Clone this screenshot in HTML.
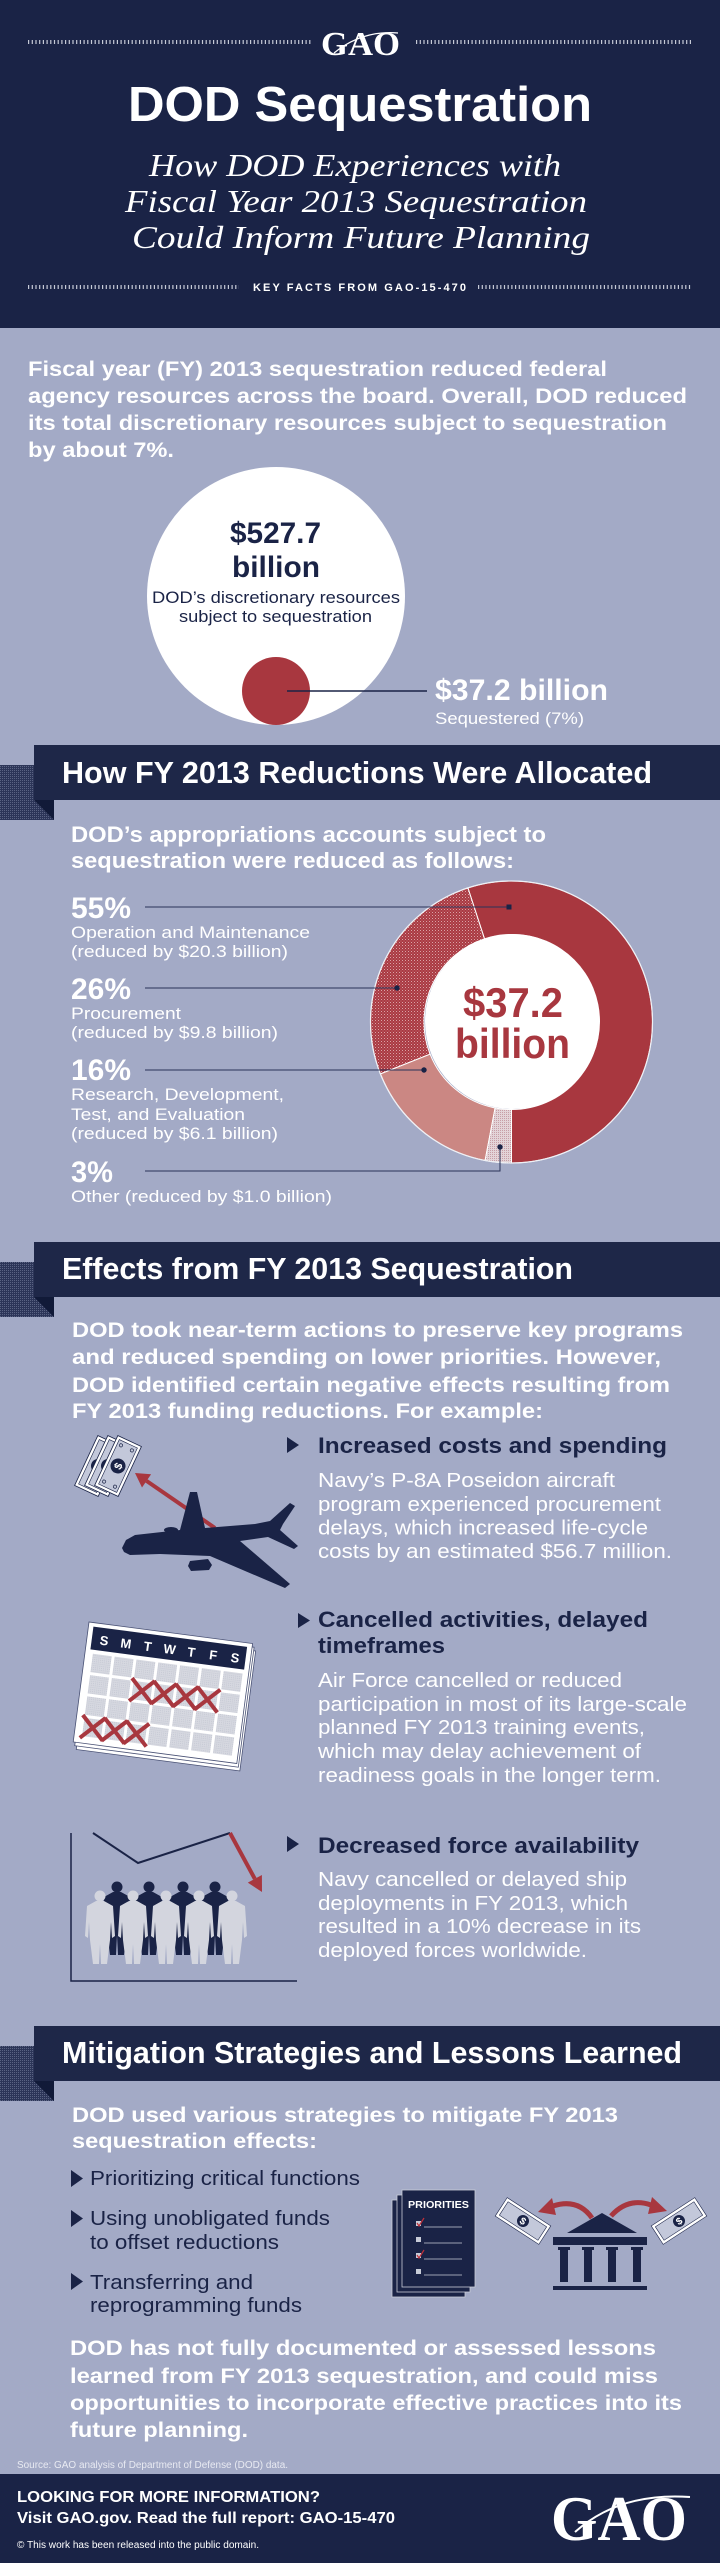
<!DOCTYPE html>
<html><head><meta charset="utf-8"><style>html,body{margin:0;padding:0;background:#a3aac6}svg{display:block}</style></head>
<body>
<svg xmlns="http://www.w3.org/2000/svg" width="720" height="2563" viewBox="0 0 720 2563" font-family="'Liberation Sans', Arial, sans-serif">
<defs>
<pattern id="hatch" width="3" height="3" patternUnits="userSpaceOnUse"><rect width="3" height="3" fill="#a93a42"/><rect width="1" height="1" fill="#dba3a7"/><rect x="1.5" y="1.5" width="1" height="1" fill="#c8747a"/></pattern>
<pattern id="dots" width="2" height="2" patternUnits="userSpaceOnUse"><rect width="2" height="2" fill="#e3d4d8"/><rect width="1" height="1" fill="#c79ea6"/></pattern>
<pattern id="fold" width="2" height="2" patternUnits="userSpaceOnUse"><rect width="2" height="2" fill="#2c3558"/><rect width="1" height="1" fill="#5a6383"/></pattern>
<pattern id="gray" width="2" height="2" patternUnits="userSpaceOnUse"><rect width="2" height="2" fill="#d6d8e0"/><rect width="1" height="1" fill="#c6c9d4"/></pattern>
</defs>

<!-- backgrounds -->
<rect width="720" height="2563" fill="#a3aac6"/>
<rect width="720" height="328" fill="#1a2346"/>

<!-- header -->
<g stroke="#c5c9d6" stroke-width="4" stroke-dasharray="1.2 2.5">
<line x1="28" y1="42" x2="312" y2="42"/><line x1="416" y1="42" x2="692" y2="42"/>
<line x1="28" y1="287" x2="239" y2="287"/><line x1="478" y1="287" x2="692" y2="287"/>
</g>
<text x="321" y="55" font-family="'Liberation Serif', serif" font-weight="bold" font-size="34" fill="#fff" textLength="79" lengthAdjust="spacingAndGlyphs">GAO</text>
<path d="M334 53 Q362 30 398 33" stroke="#fff" stroke-width="1.2" fill="none"/>
<text x="128" y="121" font-weight="bold" font-size="49" fill="#fff" textLength="464" lengthAdjust="spacingAndGlyphs">DOD Sequestration</text>
<g font-family="'Liberation Serif', serif" font-style="italic" font-size="32" fill="#fff">
<text x="149" y="176" textLength="412" lengthAdjust="spacingAndGlyphs">How DOD Experiences with</text>
<text x="125" y="212" textLength="462" lengthAdjust="spacingAndGlyphs">Fiscal Year 2013 Sequestration</text>
<text x="132" y="248" textLength="458" lengthAdjust="spacingAndGlyphs">Could Inform Future Planning</text>
</g>
<text x="253" y="291" font-weight="bold" font-size="11" fill="#fff" textLength="213" lengthAdjust="spacing">KEY FACTS FROM GAO-15-470</text>

<!-- intro -->
<g font-weight="bold" font-size="21" fill="#fff">
<text x="28" y="376" textLength="579" lengthAdjust="spacingAndGlyphs">Fiscal year (FY) 2013 sequestration reduced federal</text>
<text x="28" y="403" textLength="659" lengthAdjust="spacingAndGlyphs">agency resources across the board. Overall, DOD reduced</text>
<text x="28" y="430" textLength="639" lengthAdjust="spacingAndGlyphs">its total discretionary resources subject to sequestration</text>
<text x="28" y="457" textLength="146" lengthAdjust="spacingAndGlyphs">by about 7%.</text>
</g>

<!-- circles -->
<circle cx="276" cy="596" r="129" fill="#fff"/>
<text x="230" y="543" font-weight="bold" font-size="30" fill="#1a2346" textLength="91" lengthAdjust="spacingAndGlyphs">$527.7</text>
<text x="232" y="577" font-weight="bold" font-size="30" fill="#1a2346" textLength="88" lengthAdjust="spacingAndGlyphs">billion</text>
<text x="152" y="603" font-size="17" fill="#1a2346" textLength="248" lengthAdjust="spacingAndGlyphs">DOD’s discretionary resources</text>
<text x="179" y="622" font-size="17" fill="#1a2346" textLength="193" lengthAdjust="spacingAndGlyphs">subject to sequestration</text>
<circle cx="276" cy="691" r="34" fill="#a8373f"/>
<line x1="287" y1="691" x2="427" y2="691" stroke="#1a2346" stroke-width="1.5"/>
<text x="435" y="700" font-weight="bold" font-size="30" fill="#fff" textLength="173" lengthAdjust="spacingAndGlyphs">$37.2 billion</text>
<text x="435" y="724" font-size="17" fill="#fff" textLength="149" lengthAdjust="spacingAndGlyphs">Sequestered (7%)</text>

<!-- banner 1 -->
<rect x="0" y="765" width="54" height="55" fill="url(#fold)"/>
<polygon points="34,800 54,800 54,820" fill="#111a38"/>
<rect x="34" y="745" width="686" height="55" fill="#1e2748"/>
<text x="62" y="783" font-weight="bold" font-size="31" fill="#fff" textLength="590" lengthAdjust="spacingAndGlyphs">How FY 2013 Reductions Were Allocated</text>

<g font-weight="bold" font-size="22" fill="#fff">
<text x="71" y="842" textLength="475" lengthAdjust="spacingAndGlyphs">DOD’s appropriations accounts subject to</text>
<text x="71" y="868" textLength="443" lengthAdjust="spacingAndGlyphs">sequestration were reduced as follows:</text>
</g>

<!-- donut -->
<g stroke="#fff" stroke-width="1">
<path d="M467.9 887.9 A141 141 0 1 1 511.5 1163 L511.5 1109.5 A87.5 87.5 0 1 0 484.5 938.8 Z" fill="#a8373f"/>
<path d="M380.4 1073.9 A141 141 0 0 1 467.9 887.9 L484.5 938.8 A87.5 87.5 0 0 0 430.1 1054.2 Z" fill="url(#hatch)"/>
<path d="M485.1 1160.5 A141 141 0 0 1 380.4 1073.9 L430.1 1054.2 A87.5 87.5 0 0 0 495.1 1107.95 Z" fill="#cb8783"/>
<path d="M511.5 1163 A141 141 0 0 1 485.1 1160.5 L495.1 1107.95 A87.5 87.5 0 0 0 511.5 1109.5 Z" fill="url(#dots)"/>
</g>
<circle cx="511.5" cy="1022" r="141" fill="none" stroke="#eef0f5" stroke-width="1.2"/>
<circle cx="512.5" cy="1021.5" r="87.5" fill="#fff"/>
<text x="463" y="1017" font-weight="bold" font-size="42" fill="#a8373f" textLength="100" lengthAdjust="spacingAndGlyphs">$37.2</text>
<text x="455" y="1058" font-weight="bold" font-size="42" fill="#a8373f" textLength="115" lengthAdjust="spacingAndGlyphs">billion</text>

<g stroke="#2a3358" stroke-width="1" fill="none">
<line x1="145" y1="907" x2="509" y2="907"/>
<line x1="145" y1="988" x2="397" y2="988"/>
<line x1="145" y1="1070" x2="424" y2="1070"/>
<polyline points="145,1171 500,1171 500,1147"/>
</g>
<g fill="#1a2346">
<rect x="506.5" y="904.5" width="5" height="5"/>
<circle cx="397" cy="988" r="2.7"/>
<circle cx="424" cy="1070" r="2.7"/>
<circle cx="500" cy="1147" r="2.7"/>
</g>

<g fill="#fff">
<text x="71" y="918" font-weight="bold" font-size="30" textLength="60" lengthAdjust="spacingAndGlyphs">55%</text>
<text x="71" y="938" font-size="17" textLength="239" lengthAdjust="spacingAndGlyphs">Operation and Maintenance</text>
<text x="71" y="957" font-size="17" textLength="217" lengthAdjust="spacingAndGlyphs">(reduced by $20.3 billion)</text>
<text x="71" y="999" font-weight="bold" font-size="30" textLength="60" lengthAdjust="spacingAndGlyphs">26%</text>
<text x="71" y="1019" font-size="17" textLength="110" lengthAdjust="spacingAndGlyphs">Procurement</text>
<text x="71" y="1038" font-size="17" textLength="207" lengthAdjust="spacingAndGlyphs">(reduced by $9.8 billion)</text>
<text x="71" y="1080" font-weight="bold" font-size="30" textLength="60" lengthAdjust="spacingAndGlyphs">16%</text>
<text x="71" y="1100" font-size="17" textLength="213" lengthAdjust="spacingAndGlyphs">Research, Development,</text>
<text x="71" y="1120" font-size="17" textLength="174" lengthAdjust="spacingAndGlyphs">Test, and Evaluation</text>
<text x="71" y="1139" font-size="17" textLength="207" lengthAdjust="spacingAndGlyphs">(reduced by $6.1 billion)</text>
<text x="71" y="1182" font-weight="bold" font-size="30" textLength="42" lengthAdjust="spacingAndGlyphs">3%</text>
<text x="71" y="1202" font-size="17" textLength="261" lengthAdjust="spacingAndGlyphs">Other (reduced by $1.0 billion)</text>
</g>

<!-- banner 2 -->
<rect x="0" y="1262" width="54" height="55" fill="url(#fold)"/>
<polygon points="34,1297 54,1297 54,1317" fill="#111a38"/>
<rect x="34" y="1242" width="686" height="55" fill="#1e2748"/>
<text x="62" y="1279" font-weight="bold" font-size="31" fill="#fff" textLength="511" lengthAdjust="spacingAndGlyphs">Effects from FY 2013 Sequestration</text>

<g font-weight="bold" font-size="21" fill="#fff">
<text x="72" y="1337" textLength="611" lengthAdjust="spacingAndGlyphs">DOD took near-term actions to preserve key programs</text>
<text x="72" y="1364" textLength="589" lengthAdjust="spacingAndGlyphs">and reduced spending on lower priorities.  However,</text>
<text x="72" y="1392" textLength="598" lengthAdjust="spacingAndGlyphs">DOD identified certain negative effects resulting from</text>
<text x="72" y="1418" textLength="471" lengthAdjust="spacingAndGlyphs">FY 2013 funding reductions. For example:</text>
</g>

<!-- effect 1 -->
<polygon points="287,1437 299,1445 287,1453" fill="#1a2346"/>
<text x="318" y="1453" font-weight="bold" font-size="22" fill="#1a2346" textLength="349" lengthAdjust="spacingAndGlyphs">Increased costs and spending</text>
<g font-size="20" fill="#fff">
<text x="318" y="1487" textLength="297" lengthAdjust="spacingAndGlyphs">Navy’s P-8A Poseidon aircraft</text>
<text x="318" y="1511" textLength="343" lengthAdjust="spacingAndGlyphs">program experienced procurement</text>
<text x="318" y="1534.5" textLength="330" lengthAdjust="spacingAndGlyphs">delays, which increased life-cycle</text>
<text x="318" y="1558" textLength="354" lengthAdjust="spacingAndGlyphs">costs by an estimated $56.7 million.</text>
</g>

<!-- money stack -->
<g transform="translate(98,1466) rotate(25)">
<rect x="-13" y="-27.5" width="26" height="55" fill="#fff" stroke="#1a2346" stroke-width="0.8"/>
<rect x="-10" y="-24.5" width="20" height="49" fill="#c3c8da" stroke="#1a2346" stroke-width="0.6"/>
<circle cx="0" cy="0" r="7" fill="#1a2346"/>
</g>
<g transform="translate(108,1466) rotate(25)">
<rect x="-13" y="-27.5" width="26" height="55" fill="#fff" stroke="#1a2346" stroke-width="0.8"/>
<rect x="-10" y="-24.5" width="20" height="49" fill="#c3c8da" stroke="#1a2346" stroke-width="0.6"/>
<circle cx="0" cy="0" r="7" fill="#1a2346"/>
</g>
<g transform="translate(118,1466) rotate(25)">
<rect x="-13" y="-27.5" width="26" height="55" fill="#fff" stroke="#1a2346" stroke-width="0.8"/>
<rect x="-10" y="-24.5" width="20" height="49" fill="#c3c8da" stroke="#1a2346" stroke-width="0.6"/>
<circle cx="0" cy="0" r="7.5" fill="#1a2346"/>
<text x="0" y="4" font-weight="bold" font-size="11" fill="#fff" text-anchor="middle" transform="rotate(-90)">$</text>
<g fill="none" stroke="#1a2346" stroke-width="0.7"><circle cx="-6" cy="-20" r="1.6"/><circle cx="6" cy="-20" r="1.6"/><circle cx="-6" cy="20" r="1.6"/><circle cx="6" cy="20" r="1.6"/></g>
</g>
<line x1="215" y1="1528" x2="146.5" y2="1480.9" stroke="#a8373f" stroke-width="4"/>
<polygon points="135,1473 151.1,1474.3 142,1487.5" fill="#a8373f"/>
<!-- plane -->
<path d="M122,1548 L126,1540 L135,1535 L180,1530 L190,1492 L197,1492 L205,1528 L255,1524 L270,1521 L290,1503 L295,1506 L283,1524 L280,1530 L298,1546 L294,1549 L268,1537 L240,1541 L290,1584 L285,1588 L210,1556 L160,1554 L130,1555 L124,1552 Z" fill="#1a2346"/>
<path d="M190,1561 L208,1559 L212,1565 L209,1570 L191,1571 L188,1566 Z" fill="#1a2346"/>
<ellipse cx="171" cy="1530" rx="7" ry="3" fill="#1a2346"/>

<!-- effect 2 -->
<polygon points="298,1613 310,1620.5 298,1628" fill="#1a2346"/>
<text x="318" y="1627" font-weight="bold" font-size="22" fill="#1a2346" textLength="330" lengthAdjust="spacingAndGlyphs">Cancelled activities, delayed</text>
<text x="318" y="1653" font-weight="bold" font-size="22" fill="#1a2346" textLength="127" lengthAdjust="spacingAndGlyphs">timeframes</text>
<g font-size="20" fill="#fff">
<text x="318" y="1687" textLength="304" lengthAdjust="spacingAndGlyphs">Air Force cancelled or reduced</text>
<text x="318" y="1711" textLength="369" lengthAdjust="spacingAndGlyphs">participation in most of its large-scale</text>
<text x="318" y="1734" textLength="327" lengthAdjust="spacingAndGlyphs">planned FY 2013 training events,</text>
<text x="318" y="1758" textLength="323" lengthAdjust="spacingAndGlyphs">which may delay achievement of</text>
<text x="318" y="1782" textLength="343" lengthAdjust="spacingAndGlyphs">readiness goals in the longer term.</text>
</g>

<!-- calendar -->
<g transform="translate(89,1622) rotate(7.5)">
<rect x="4" y="7" width="165" height="121" fill="#fff" stroke="#4a5275" stroke-width="0.8"/>
<rect x="2" y="3.5" width="165" height="121" fill="#fff" stroke="#4a5275" stroke-width="0.8"/>
<rect x="0" y="0" width="165" height="121" fill="#fff" stroke="#4a5275" stroke-width="0.8"/>
<rect x="5" y="4" width="155" height="23" fill="#1a2346"/>
<g font-weight="bold" font-size="13" fill="#fff" text-anchor="middle">
<text x="17.5" y="21">S</text><text x="39.5" y="21">M</text><text x="61.5" y="21">T</text><text x="83.5" y="21">W</text><text x="105.5" y="21">T</text><text x="127.5" y="21">F</text><text x="149.5" y="21">S</text>
</g>
<g fill="url(#gray)">
<rect x="8" y="31" width="19" height="18.5"/><rect x="30" y="31" width="19" height="18.5"/><rect x="52" y="31" width="19" height="18.5"/><rect x="74" y="31" width="19" height="18.5"/><rect x="96" y="31" width="19" height="18.5"/><rect x="118" y="31" width="19" height="18.5"/><rect x="140" y="31" width="19" height="18.5"/>
<rect x="8" y="52.5" width="19" height="18.5"/><rect x="30" y="52.5" width="19" height="18.5"/><rect x="52" y="52.5" width="19" height="18.5"/><rect x="74" y="52.5" width="19" height="18.5"/><rect x="96" y="52.5" width="19" height="18.5"/><rect x="118" y="52.5" width="19" height="18.5"/><rect x="140" y="52.5" width="19" height="18.5"/>
<rect x="8" y="74" width="19" height="18.5"/><rect x="30" y="74" width="19" height="18.5"/><rect x="52" y="74" width="19" height="18.5"/><rect x="74" y="74" width="19" height="18.5"/><rect x="96" y="74" width="19" height="18.5"/><rect x="118" y="74" width="19" height="18.5"/><rect x="140" y="74" width="19" height="18.5"/>
<rect x="8" y="95.5" width="19" height="18.5"/><rect x="30" y="95.5" width="19" height="18.5"/><rect x="52" y="95.5" width="19" height="18.5"/><rect x="74" y="95.5" width="19" height="18.5"/><rect x="96" y="95.5" width="19" height="18.5"/><rect x="118" y="95.5" width="19" height="18.5"/><rect x="140" y="95.5" width="19" height="18.5"/>
</g>
<g stroke="#a8373f" stroke-width="4" stroke-linecap="butt">
<path d="M50 50 L73 73 M73 50 L50 73"/>
<path d="M72 50 L95 73 M95 50 L72 73"/>
<path d="M94 50 L117 73 M117 50 L94 73"/>
<path d="M116 50 L139 73 M139 50 L116 73"/>
<path d="M6 93 L29 116 M29 93 L6 116"/>
<path d="M28 93 L51 116 M51 93 L28 116"/>
<path d="M50 93 L73 116 M73 93 L50 116"/>
</g>
</g>

<!-- effect 3 -->
<polygon points="287,1836 299,1844 287,1852" fill="#1a2346"/>
<text x="318" y="1853" font-weight="bold" font-size="22" fill="#1a2346" textLength="321" lengthAdjust="spacingAndGlyphs">Decreased force availability</text>
<g font-size="20" fill="#fff">
<text x="318" y="1886" textLength="309" lengthAdjust="spacingAndGlyphs">Navy cancelled or delayed ship</text>
<text x="318" y="1910" textLength="310" lengthAdjust="spacingAndGlyphs">deployments in FY 2013, which</text>
<text x="318" y="1933" textLength="323" lengthAdjust="spacingAndGlyphs">resulted in a 10% decrease in its</text>
<text x="318" y="1957" textLength="269" lengthAdjust="spacingAndGlyphs">deployed forces worldwide.</text>
</g>

<!-- people chart -->
<polyline points="71,1833 71,1981 297,1981" fill="none" stroke="#1a2346" stroke-width="1.5"/>
<polyline points="93,1833 138,1863 230,1833" fill="none" stroke="#1a2346" stroke-width="2"/>
<line x1="230" y1="1833" x2="254.8" y2="1878.8" stroke="#a8373f" stroke-width="4"/>
<polygon points="262,1892 261.9,1875 247.8,1882.6" fill="#a8373f"/>
<g fill="#1a2346">
<g transform="translate(117,1887)"><circle r="5.5"/><path d="M-4 5 L4 5 L13 10 L15 40 L12 42 L11 26 L10 44 L7 68 L1 68 L0 48 L-1 68 L-7 68 L-10 44 L-11 26 L-12 42 L-15 40 L-13 10 Z"/></g>
<g transform="translate(149,1887)"><circle r="5.5"/><path d="M-4 5 L4 5 L13 10 L15 40 L12 42 L11 26 L10 44 L7 68 L1 68 L0 48 L-1 68 L-7 68 L-10 44 L-11 26 L-12 42 L-15 40 L-13 10 Z"/></g>
<g transform="translate(183,1887)"><circle r="5.5"/><path d="M-4 5 L4 5 L13 10 L15 40 L12 42 L11 26 L10 44 L7 68 L1 68 L0 48 L-1 68 L-7 68 L-10 44 L-11 26 L-12 42 L-15 40 L-13 10 Z"/></g>
<g transform="translate(215,1887)"><circle r="5.5"/><path d="M-4 5 L4 5 L13 10 L15 40 L12 42 L11 26 L10 44 L7 68 L1 68 L0 48 L-1 68 L-7 68 L-10 44 L-11 26 L-12 42 L-15 40 L-13 10 Z"/></g>
</g>
<g fill="#d3d5de">
<g transform="translate(100,1896)"><circle r="5.5"/><path d="M-4 5 L4 5 L13 10 L15 40 L12 42 L11 26 L10 44 L7 68 L1 68 L0 48 L-1 68 L-7 68 L-10 44 L-11 26 L-12 42 L-15 40 L-13 10 Z"/></g>
<g transform="translate(133,1896)"><circle r="5.5"/><path d="M-4 5 L4 5 L13 10 L15 40 L12 42 L11 26 L10 44 L7 68 L1 68 L0 48 L-1 68 L-7 68 L-10 44 L-11 26 L-12 42 L-15 40 L-13 10 Z"/></g>
<g transform="translate(166,1896)"><circle r="5.5"/><path d="M-4 5 L4 5 L13 10 L15 40 L12 42 L11 26 L10 44 L7 68 L1 68 L0 48 L-1 68 L-7 68 L-10 44 L-11 26 L-12 42 L-15 40 L-13 10 Z"/></g>
<g transform="translate(199,1896)"><circle r="5.5"/><path d="M-4 5 L4 5 L13 10 L15 40 L12 42 L11 26 L10 44 L7 68 L1 68 L0 48 L-1 68 L-7 68 L-10 44 L-11 26 L-12 42 L-15 40 L-13 10 Z"/></g>
<g transform="translate(232,1896)"><circle r="5.5"/><path d="M-4 5 L4 5 L13 10 L15 40 L12 42 L11 26 L10 44 L7 68 L1 68 L0 48 L-1 68 L-7 68 L-10 44 L-11 26 L-12 42 L-15 40 L-13 10 Z"/></g>
</g>

<!-- banner 3 -->
<rect x="0" y="2046" width="54" height="55" fill="url(#fold)"/>
<polygon points="34,2081 54,2081 54,2101" fill="#111a38"/>
<rect x="34" y="2026" width="686" height="55" fill="#1e2748"/>
<text x="62" y="2063" font-weight="bold" font-size="31" fill="#fff" textLength="620" lengthAdjust="spacingAndGlyphs">Mitigation Strategies and Lessons Learned</text>

<g font-weight="bold" font-size="21" fill="#fff">
<text x="72" y="2122" textLength="546" lengthAdjust="spacingAndGlyphs">DOD used various strategies to mitigate FY 2013</text>
<text x="72" y="2148" textLength="245" lengthAdjust="spacingAndGlyphs">sequestration effects:</text>
</g>
<g fill="#1a2346">
<polygon points="71,2170 83,2178.5 71,2187"/>
<polygon points="71,2210 83,2218.5 71,2227"/>
<polygon points="71,2273 83,2281.5 71,2290"/>
</g>
<g font-size="20" fill="#1a2346">
<text x="90" y="2185" textLength="270" lengthAdjust="spacingAndGlyphs">Prioritizing critical functions</text>
<text x="90" y="2225" textLength="240" lengthAdjust="spacingAndGlyphs">Using unobligated funds</text>
<text x="90" y="2249" textLength="189" lengthAdjust="spacingAndGlyphs">to offset reductions</text>
<text x="90" y="2289" textLength="163" lengthAdjust="spacingAndGlyphs">Transferring and</text>
<text x="90" y="2312" textLength="212" lengthAdjust="spacingAndGlyphs">reprogramming funds</text>
</g>

<!-- priorities doc -->
<g fill="#1a2346" stroke="#c8ccd8" stroke-width="0.8">
<rect x="392" y="2200" width="73" height="97"/>
<rect x="397" y="2195" width="73" height="97"/>
<rect x="402" y="2190" width="73" height="97"/>
</g>
<text x="408" y="2208" font-weight="bold" font-size="10" fill="#fff" textLength="61" lengthAdjust="spacingAndGlyphs">PRIORITIES</text>
<g fill="#c8ccd8">
<rect x="416" y="2221" width="5" height="5"/><rect x="416" y="2237" width="5" height="5"/><rect x="416" y="2253" width="5" height="5"/><rect x="416" y="2269" width="5" height="5"/>
</g>
<g stroke="#c8ccd8" stroke-width="0.8">
<line x1="424" y1="2227" x2="462" y2="2227"/><line x1="424" y1="2243" x2="462" y2="2243"/><line x1="424" y1="2259" x2="462" y2="2259"/><line x1="424" y1="2275" x2="462" y2="2275"/>
</g>
<g stroke="#c0303a" stroke-width="1.2" fill="none">
<path d="M417 2223 L419 2226 L424 2218"/>
<path d="M417 2255 L419 2258 L424 2250"/>
</g>

<!-- bills + bank -->
<g transform="translate(523,2221) rotate(33)">
<rect x="-26" y="-11" width="52" height="22" fill="#fff" stroke="#1a2346" stroke-width="0.6"/>
<rect x="-23" y="-8" width="46" height="16" fill="#c3c8da" stroke="#1a2346" stroke-width="0.6"/>
<circle r="6" fill="#1a2346"/>
<text x="0" y="3.5" font-weight="bold" font-size="10" fill="#fff" text-anchor="middle">$</text>
</g>
<g transform="translate(679,2221) rotate(-33)">
<rect x="-26" y="-11" width="52" height="22" fill="#fff" stroke="#1a2346" stroke-width="0.6"/>
<rect x="-23" y="-8" width="46" height="16" fill="#c3c8da" stroke="#1a2346" stroke-width="0.6"/>
<circle r="6" fill="#1a2346"/>
<text x="0" y="3.5" font-weight="bold" font-size="10" fill="#fff" text-anchor="middle">$</text>
</g>
<g fill="none" stroke="#a8373f" stroke-width="5">
<path d="M592 2218 Q578 2198 553 2206"/>
<path d="M611 2216 Q628 2197 651 2205"/>
</g>
<polygon points="538,2212 552,2198 556,2215" fill="#a8373f"/>
<polygon points="667,2211 652,2197 648,2214" fill="#a8373f"/>
<g fill="#1a2346">
<polygon points="567,2233 602,2213 637,2233"/>
<rect x="553" y="2237" width="94" height="8"/>
<rect x="560" y="2248" width="8" height="34"/><rect x="584" y="2248" width="8" height="34"/><rect x="608" y="2248" width="8" height="34"/><rect x="633" y="2248" width="8" height="34"/>
<rect x="558" y="2247" width="12" height="3"/><rect x="582" y="2247" width="12" height="3"/><rect x="606" y="2247" width="12" height="3"/><rect x="631" y="2247" width="12" height="3"/>
<rect x="553" y="2286" width="94" height="4"/>
</g>

<!-- final paragraph -->
<g font-weight="bold" font-size="21" fill="#fff">
<text x="70" y="2355" textLength="586" lengthAdjust="spacingAndGlyphs">DOD has not fully documented or assessed lessons</text>
<text x="70" y="2383" textLength="588" lengthAdjust="spacingAndGlyphs">learned from FY 2013 sequestration, and could miss</text>
<text x="70" y="2410" textLength="612" lengthAdjust="spacingAndGlyphs">opportunities to incorporate effective practices into its</text>
<text x="70" y="2437" textLength="178" lengthAdjust="spacingAndGlyphs">future planning.</text>
</g>
<text x="17" y="2468" font-size="10" fill="#e8eaf2" textLength="271" lengthAdjust="spacingAndGlyphs">Source: GAO analysis of Department of Defense (DOD) data.</text>

<!-- footer -->
<rect x="0" y="2474" width="720" height="89" fill="#1a2346"/>
<text x="17" y="2502" font-weight="bold" font-size="16" fill="#fff" textLength="303" lengthAdjust="spacingAndGlyphs">LOOKING FOR MORE INFORMATION?</text>
<text x="17" y="2523" font-weight="bold" font-size="16" fill="#fff" textLength="378" lengthAdjust="spacingAndGlyphs">Visit GAO.gov. Read the full report: GAO-15-470</text>
<text x="17" y="2548" font-size="10" fill="#fff" textLength="242" lengthAdjust="spacingAndGlyphs">© This work has been released into the public domain.</text>
<text x="551" y="2540" font-family="'Liberation Serif', serif" font-weight="bold" font-size="64" fill="#fff" textLength="136" lengthAdjust="spacingAndGlyphs">GAO</text>
<path d="M575 2532 Q620 2492 690 2497" stroke="#fff" stroke-width="2" fill="none"/>
</svg>
</body></html>
